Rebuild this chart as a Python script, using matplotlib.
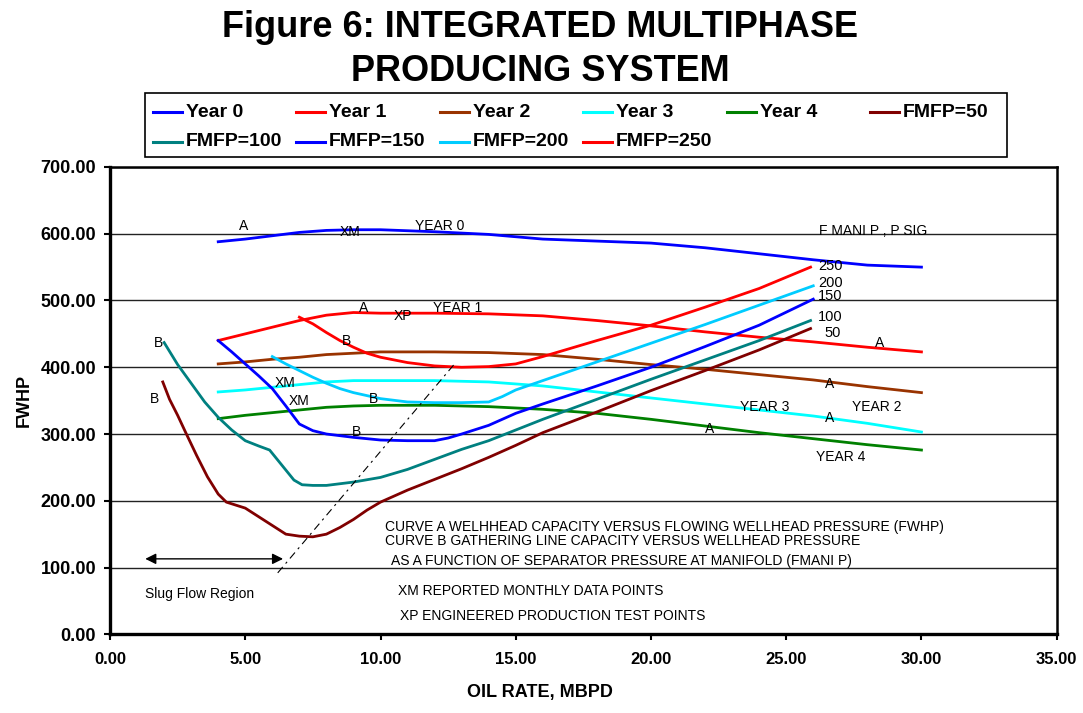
import matplotlib

matplotlib.use("Agg")
import matplotlib.pyplot as plt
from matplotlib.lines import Line2D
from matplotlib.patches import Rectangle

plt.rcParams["font.family"] = ["Liberation Sans", "DejaVu Sans"]

# --- data (oil rate MBPD, FWHP psig) ---
YEAR_X = [4, 5, 6, 7, 8, 9, 10, 12, 14, 16, 18, 20, 22, 24, 26, 28, 30]
YEAR0 = [588, 592, 597, 602, 605, 606, 606, 603, 599, 592, 589, 586, 579, 570, 561, 553, 550]
YEAR1 = [440, 450, 460, 470, 478, 482, 481, 481, 480, 477, 470, 462, 453, 445, 438, 430, 423]
YEAR2 = [405, 408, 412, 415, 419, 421, 423, 423, 422, 419, 412, 404, 397, 389, 381, 371, 362]
YEAR3 = [363, 366, 370, 374, 378, 380, 380, 380, 378, 372, 363, 354, 345, 336, 327, 316, 303]
YEAR4 = [323, 328, 332, 336, 340, 342, 343, 343, 341, 337, 331, 322, 312, 302, 293, 284, 276]

F50_X = [1.95, 2.2, 2.5, 2.8, 3.2, 3.6, 4.0, 4.3, 5.0, 5.5, 6.0, 6.5, 7.0, 7.5, 8.0, 8.5,
         9.0, 9.5, 10, 11, 12, 13, 14, 15, 16, 18, 20, 22, 24, 25.9]
F50_Y = [378, 352, 328, 302, 268, 236, 210, 198, 189, 176, 163, 150, 147, 146, 150, 160,
         172, 186, 198, 216, 232, 248, 265, 283, 302, 333, 365, 395, 426, 458]

F100_X = [2, 2.5, 3, 3.5, 4, 4.5, 5, 5.5, 5.9, 6.3, 6.8, 7.1, 7.5, 8, 9, 10, 11, 12, 13,
          14, 15, 16, 18, 20, 22, 24, 25.9]
F100_Y = [437, 404, 376, 348, 325, 306, 290, 282, 276, 256, 231, 224, 223, 223, 228, 235,
          247, 262, 277, 290, 306, 322, 352, 382, 411, 440, 470]

F150_X = [4, 4.5, 5, 5.5, 6, 6.5, 7, 7.5, 8, 9, 10, 11, 12, 12.5, 13, 14, 14.5, 15, 16,
          18, 20, 22, 24, 26]
F150_Y = [440, 423, 405, 387, 368, 342, 315, 305, 300, 295, 291, 290, 290, 294, 300, 313,
          322, 331, 345, 372, 400, 431, 463, 502]

F200_X = [6, 6.5, 7, 7.5, 8, 8.5, 9, 10, 11, 12, 13, 14, 14.5, 15, 16, 18, 20, 22, 24, 26]
F200_Y = [416, 405, 395, 385, 376, 368, 362, 353, 348, 347, 347, 348, 356, 366, 380, 408,
          436, 464, 493, 522]

F250_X = [7.0, 7.5, 8, 8.5, 9, 9.5, 10, 11, 12, 13, 14, 15, 16, 17, 18, 20, 22, 24, 25.9]
F250_Y = [475, 465, 452, 440, 430, 421, 415, 407, 402, 400, 401, 405, 416, 428, 440, 463,
          490, 518, 550]

SLUG_LINE_X = [6.2, 12.8]
SLUG_LINE_Y = [92, 408]
SLUG_ARROW_X = [1.2, 6.5]
SLUG_ARROW_Y = 113

SERIES = [
    ("Year 0", YEAR_X, YEAR0, "#0000FF"),
    ("Year 1", YEAR_X, YEAR1, "#FF0000"),
    ("Year 2", YEAR_X, YEAR2, "#993300"),
    ("Year 3", YEAR_X, YEAR3, "#00FFFF"),
    ("Year 4", YEAR_X, YEAR4, "#008000"),
    ("FMFP=50", F50_X, F50_Y, "#800000"),
    ("FMFP=100", F100_X, F100_Y, "#008080"),
    ("FMFP=150", F150_X, F150_Y, "#0000FF"),
    ("FMFP=200", F200_X, F200_Y, "#00CCFF"),
    ("FMFP=250", F250_X, F250_Y, "#FF0000"),
]

# curve labels on the chart: (text, x, y)
CURVE_LABELS = [
    ("A", 4.92, 612), ("XM", 8.87, 602), ("YEAR 0", 12.2, 612),
    ("F MANI P , P SIG", 28.23, 604),
    ("A", 9.36, 489), ("XP", 10.84, 477), ("YEAR 1", 12.84, 489),
    ("B", 1.79, 437), ("B", 1.66, 353), ("B", 8.75, 439),
    ("XM", 6.47, 377), ("XM", 6.98, 349), ("B", 9.73, 353), ("B", 9.12, 303),
    ("A", 28.45, 436), ("A", 26.6, 375), ("YEAR 3", 24.2, 340), ("YEAR 2", 28.33, 340),
    ("A", 26.6, 324), ("A", 22.17, 307), ("YEAR 4", 27.0, 265),
]
PRESSURE_LABELS = [("250", 26.17, 551), ("200", 26.17, 526), ("150", 26.17, 507),
                   ("100", 26.17, 475), ("50", 26.4, 452)]
NOTES = [
    ("CURVE A WELHHEAD CAPACITY VERSUS FLOWING WELLHEAD PRESSURE (FWHP)", 10.17, 161),
    ("CURVE B GATHERING LINE CAPACITY VERSUS WELLHEAD PRESSURE", 10.17, 139),
    ("AS A FUNCTION OF SEPARATOR PRESSURE AT MANIFOLD (FMANI P)", 10.38, 110),
    ("XM REPORTED MONTHLY DATA POINTS", 10.63, 65),
    ("XP ENGINEERED PRODUCTION TEST POINTS", 10.71, 28),
]

W, H = 1083, 713
fig = plt.figure(figsize=(W / 100, H / 100), dpi=100)
ax = fig.add_axes([0.1016, 0.1104, 0.8741, 0.6554])

for label, xs, ys, color in SERIES:
    ax.plot(xs, ys, color=color, lw=2.0, label=label)

ax.plot(SLUG_LINE_X, SLUG_LINE_Y, color="black", lw=0.8, ls=(0, (7, 4, 2, 4)))
ax.annotate("", xy=(SLUG_ARROW_X[0], SLUG_ARROW_Y), xytext=(SLUG_ARROW_X[1], SLUG_ARROW_Y),
            arrowprops=dict(arrowstyle="<|-|>", color="black", lw=1.0, mutation_scale=16))
ax.text(1.29, 60, "Slug Flow Region", fontsize=10, ha="left", va="center")

for txt, x, y in CURVE_LABELS:
    ax.text(x, y, txt, fontsize=10, ha="center", va="center")
for txt, x, y in PRESSURE_LABELS:
    ax.text(x, y, txt, fontsize=10.5, ha="left", va="center")
for txt, x, y in NOTES:
    ax.text(x, y, txt, fontsize=10, ha="left", va="center")

ax.set_xlim(0, 35)
ax.set_ylim(0, 700)
ax.set_xticks(range(0, 36, 5))
ax.set_yticks(range(0, 701, 100))
ax.xaxis.set_major_formatter(lambda v, p: f"{v:.2f}")
ax.yaxis.set_major_formatter(lambda v, p: f"{v:.2f}")
ax.tick_params(axis="both", direction="out", length=4, width=1.5)
ax.tick_params(axis="x", pad=9, labelsize=12)
ax.tick_params(axis="y", pad=6, labelsize=13)
for lab in ax.get_xticklabels() + ax.get_yticklabels():
    lab.set_fontweight("bold")

ax.yaxis.grid(True, color="#222222", lw=1.0)
ax.set_axisbelow(True)
for side in ["left", "bottom"]:
    ax.spines[side].set_linewidth(2.4)
for side in ["top", "right"]:
    ax.spines[side].set_linewidth(1.8)

ax.set_xlabel("OIL RATE, MBPD", fontsize=13, fontweight="bold")
ax.set_ylabel("FWHP", fontsize=13, fontweight="bold")
ax.xaxis.set_label_coords(0.454, -0.107)
ax.yaxis.set_label_coords(-0.082, 0.5)

# legend box in the Excel style: equal-width columns, filled row by row
fig.add_artist(Rectangle((145 / W, 1 - 156.7 / H), (1006.7 - 145) / W, 63.4 / H,
                         transform=fig.transFigure, facecolor="white",
                         edgecolor="black", lw=1.2))
for i, (label, _, _, color) in enumerate(SERIES):
    row, col = divmod(i, 6)
    x0 = 152.7 + col * 143.5
    y0 = 112.3 + row * 29.4
    fig.add_artist(Line2D([x0 / W, (x0 + 29) / W], [1 - y0 / H, 1 - y0 / H],
                          transform=fig.transFigure, color=color, lw=2.2))
    fig.text((x0 + 33) / W, 1 - y0 / H, label, ha="left", va="center",
             fontsize=14, fontweight="bold")

fig.text(0.4986, 1 - 49.5 / H, "Figure 6: INTEGRATED MULTIPHASE\nPRODUCING SYSTEM",
         ha="center", va="center", fontsize=26, fontweight="bold", linespacing=1.32)

fig.savefig("out.png", dpi=100)
